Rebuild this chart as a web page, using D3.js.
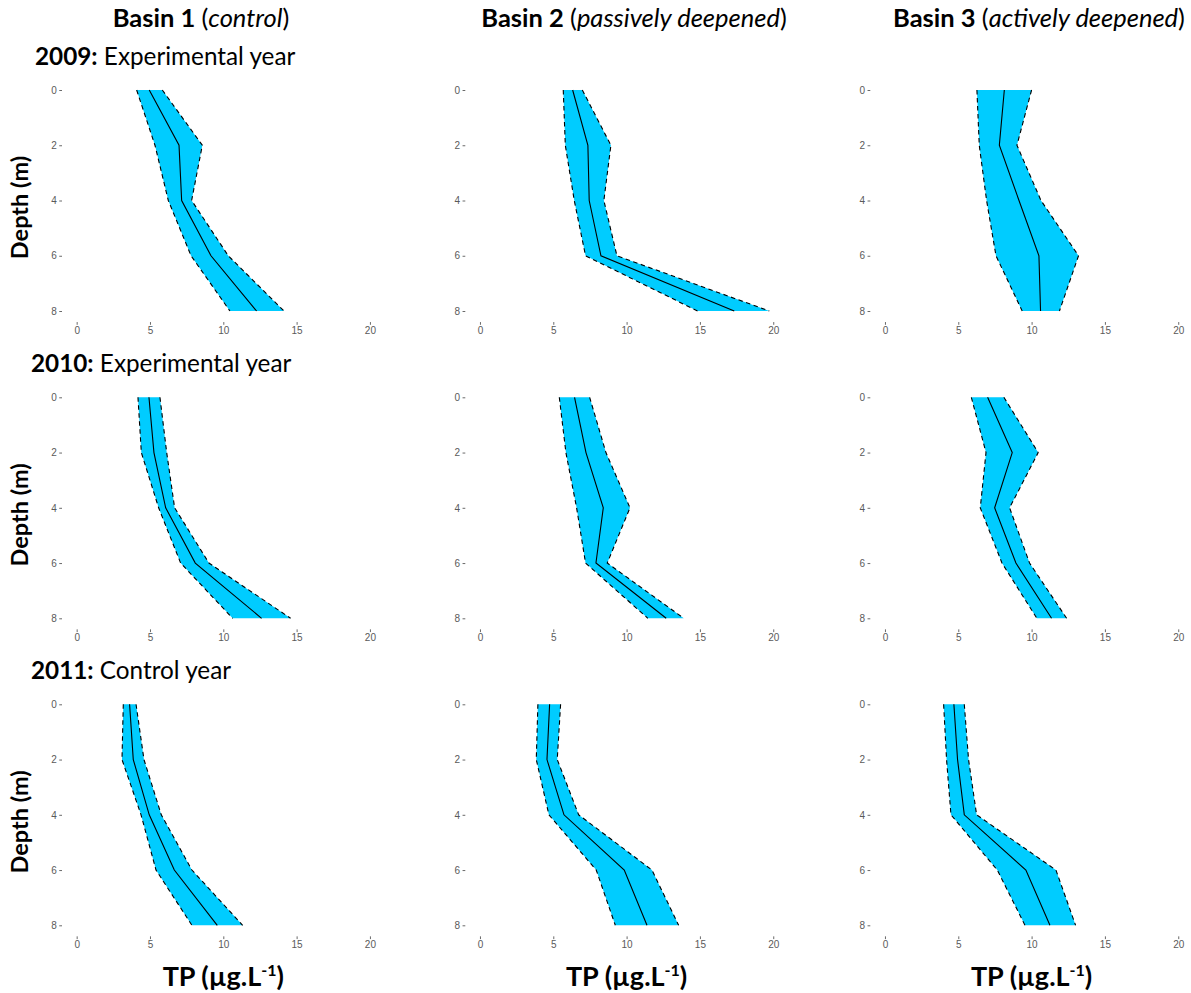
<!DOCTYPE html>
<html>
<head>
<meta charset="utf-8">
<script src="https://cdn.jsdelivr.net/npm/d3@7"></script>
<style>
  html, body { margin: 0; padding: 0; background: #fff; }
  svg { display: block; }
  .title { font-family: Lato, "Open Sans", sans-serif; fill: #000; }
  .tick text { font-family: "Liberation Sans", Arial, sans-serif; font-size: 10px; fill: #5a5a5a; }
  .tick line { stroke: #444; stroke-width: 0.8; }
</style>
</head>
<body>
<svg id="chart" width="1191" height="993"></svg>
<script>
// Sampling depths (m)
const depths = [0, 2, 4, 6, 8];
const xTicks = [0, 5, 10, 15, 20];
const yTicks = [0, 2, 4, 6, 8];

const basinNames = ["Basin 1", "Basin 2", "Basin 3"];
const basinTreatments = ["control", "passively deepened", "actively deepened"];
const years = ["2009", "2010", "2011"];
const yearLabels = ["Experimental year", "Experimental year", "Control year"];

// Total phosphorus (µg/L) per basin: lower bound, mean, upper bound at each depth
const low2009  = [[4.09, 5.34, 6.25, 7.80, 10.45], [5.68, 5.82, 6.43, 7.20, 14.84], [6.27, 6.43, 6.93, 7.57, 9.36]];
const mean2009 = [[4.95, 6.98, 7.16, 9.16, 12.27], [6.32, 7.36, 7.45, 8.25, 17.34], [8.14, 7.80, 9.14, 10.50, 10.61]];
const high2009 = [[5.84, 8.57, 7.84, 10.34, 14.14], [6.98, 8.93, 8.45, 9.34, 19.73], [10.00, 9.00, 10.64, 13.20, 11.90]];

const low2010  = [[4.18, 4.41, 5.59, 7.09, 10.64], [5.41, 5.86, 6.59, 7.20, 11.45], [5.89, 6.89, 6.50, 7.98, 10.36]];
const mean2010 = [[4.93, 5.27, 6.07, 8.09, 12.61], [6.45, 7.23, 8.41, 7.91, 12.70], [7.00, 8.68, 7.48, 8.93, 11.36]];
const high2010 = [[5.68, 6.14, 6.68, 9.02, 14.59], [7.48, 8.59, 10.23, 8.68, 13.90], [8.11, 10.45, 8.50, 9.86, 12.39]];

const low2011  = [[3.18, 3.09, 4.39, 5.41, 7.86], [3.95, 3.84, 4.70, 7.93, 9.23], [4.00, 4.20, 4.50, 7.66, 9.55]];
const mean2011 = [[3.61, 3.86, 4.95, 6.66, 9.59], [4.75, 4.57, 5.73, 9.84, 11.39], [4.70, 4.95, 5.41, 9.61, 11.25]];
const high2011 = [[4.05, 4.59, 5.77, 7.86, 11.32], [5.50, 5.27, 6.73, 11.73, 13.55], [5.41, 5.70, 6.25, 11.66, 13.00]];

const lows = [low2009, low2010, low2011];
const means = [mean2009, mean2010, mean2011];
const highs = [high2009, high2010, high2011];

// Panel geometry
const panelLefts = [62.0, 465.3, 870.3];
const panelTops = [78.95, 386.25, 693.25];
const panelW = 322.6;
const panelH = 243.1;
const ribbonFill = "#00CCFF";

const svg = d3.select("#chart");

function drawPanel(row, col) {
  const x = d3.scaleLinear().domain([-1, 21]).range([panelLefts[col], panelLefts[col] + panelW]);
  const y = d3.scaleLinear().domain([-0.4, 8.4]).range([panelTops[row], panelTops[row] + panelH]);

  const rows = depths.map((d, i) => ({
    depth: d,
    lo: lows[row][col][i],
    mean: means[row][col][i],
    hi: highs[row][col][i]
  }));

  const g = svg.append("g");

  // Confidence band
  g.append("path")
    .datum(rows)
    .attr("fill", ribbonFill)
    .attr("d", d3.area().y(d => y(d.depth)).x0(d => x(d.lo)).x1(d => x(d.hi)));

  // Band edges (dashed) and mean profile (solid)
  const edge = key => d3.line().y(d => y(d.depth)).x(d => x(d[key]));
  ["lo", "hi"].forEach(k => {
    g.append("path").datum(rows)
      .attr("fill", "none").attr("stroke", "#000")
      .attr("stroke-width", 1.1).attr("stroke-dasharray", "4.5,3.5")
      .attr("d", edge(k));
  });
  g.append("path").datum(rows)
    .attr("fill", "none").attr("stroke", "#000").attr("stroke-width", 1.1)
    .attr("d", edge("mean"));

  // Axes
  const yAxis = g.append("g")
    .attr("transform", `translate(${panelLefts[col]},0)`)
    .call(d3.axisLeft(y).tickValues(yTicks).tickSize(2.75).tickPadding(2.5));
  yAxis.select(".domain").remove();

  const xAxis = g.append("g")
    .attr("transform", `translate(0,${panelTops[row] + panelH})`)
    .call(d3.axisBottom(x).tickValues(xTicks).tickSize(2.75).tickPadding(2));
  xAxis.select(".domain").remove();
}

for (let r = 0; r < 3; r++) for (let c = 0; c < 3; c++) drawPanel(r, c);

// Column headings
const colCenters = [201, 634, 1039];
basinNames.forEach((name, c) => {
  const t = svg.append("text").attr("class", "title")
    .attr("x", colCenters[c]).attr("y", 27)
    .attr("text-anchor", "middle").attr("font-size", 25.5);
  t.append("tspan").attr("font-weight", "bold").text(name + " ");
  t.append("tspan").text("(");
  t.append("tspan").attr("font-style", "italic").text(basinTreatments[c]);
  t.append("tspan").text(")");
});

// Row headings
const rowTitleX = [35, 31, 31];
const rowTitleY = [65, 372, 679];
years.forEach((yr, r) => {
  const t = svg.append("text").attr("class", "title")
    .attr("x", rowTitleX[r]).attr("y", rowTitleY[r]).attr("font-size", 24.3);
  t.append("tspan").attr("font-weight", "bold").text(yr + ":");
  t.append("tspan").text(" " + yearLabels[r]);
});

// Depth axis titles
panelTops.forEach(top => {
  svg.append("text").attr("class", "title")
    .attr("transform", `translate(28,${top + panelH / 2 + 7}) rotate(-90)`)
    .attr("text-anchor", "middle").attr("font-size", 23.5).attr("font-weight", "bold")
    .text("Depth (m)");
});

// TP axis titles
panelLefts.forEach(left => {
  const t = svg.append("text").attr("class", "title")
    .attr("x", left + panelW / 2).attr("y", 986)
    .attr("text-anchor", "middle").attr("font-size", 27).attr("font-weight", "bold");
  t.append("tspan").text("TP (µg.L");
  t.append("tspan").attr("font-size", 16).attr("dy", -10).text("-1");
  t.append("tspan").attr("dy", 10).text(")");
});
</script>
</body>
</html>
